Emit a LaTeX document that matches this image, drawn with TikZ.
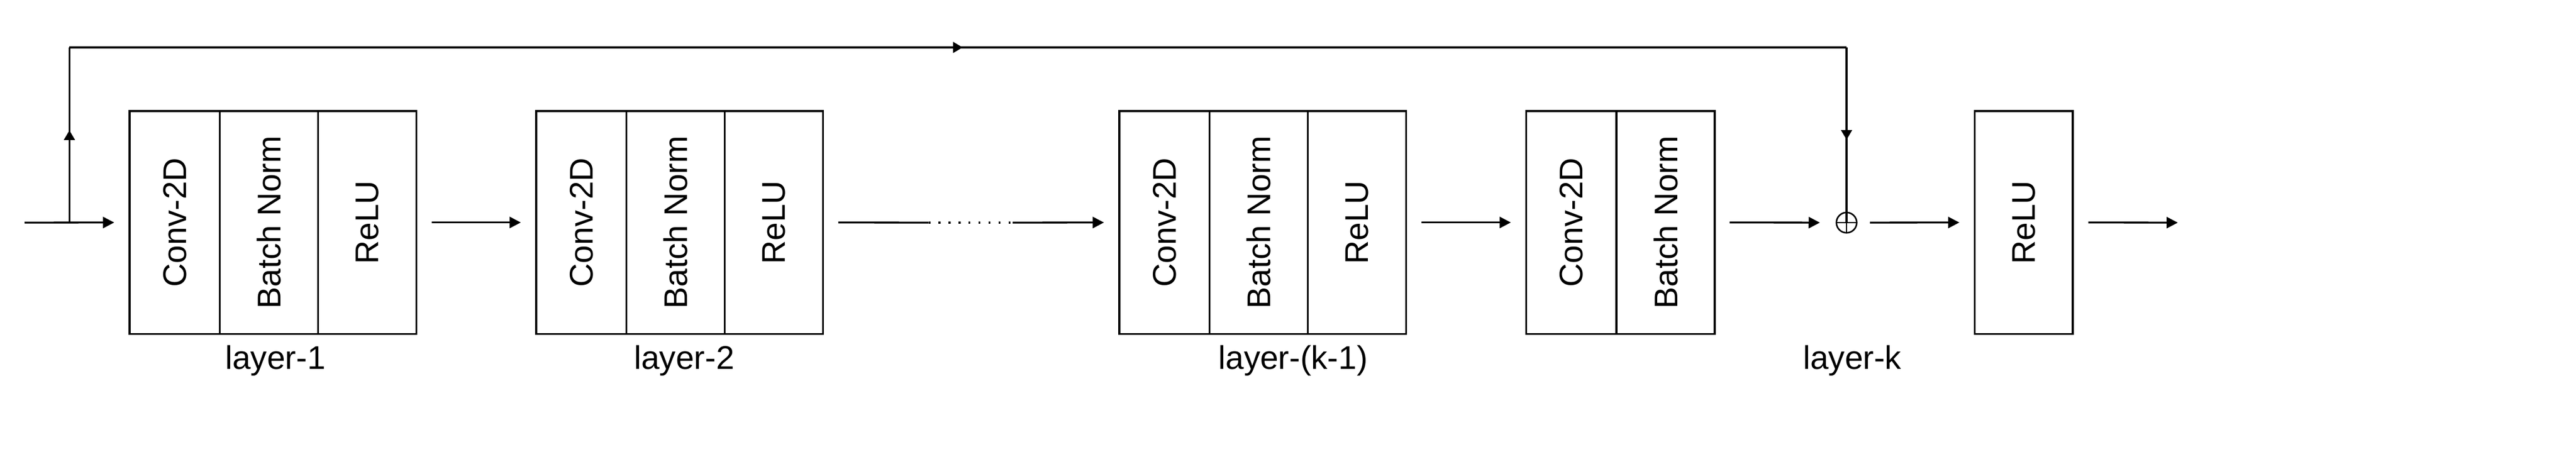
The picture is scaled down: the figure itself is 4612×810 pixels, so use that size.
\documentclass[tikz,border=0pt]{standalone}
\usepackage{fontspec}
\usepackage{graphicx}
\setmainfont{Liberation Sans}
\usetikzlibrary{arrows.meta,decorations.markings}
\begin{document}
\begin{tikzpicture}[x=0.25pt,y=-0.25pt,
  ln/.style={line width=0.83pt},
  col/.style={draw, line width=0.83pt, minimum height=99.85pt, inner sep=0pt, outer sep=0pt, anchor=west,
    font=\fontsize{14.67pt}{17pt}\selectfont},
  convc/.style={col, minimum width=40.4pt},
  bnc/.style={col, minimum width=44pt},
  reluc/.style={col, minimum width=43.9pt},
  lab/.style={anchor=base, inner sep=0pt, font=\fontsize{14.67pt}{17pt}\selectfont},
  arr/.style={ln, -{Triangle[length=5pt,width=5pt]}},
  gapin/.style={shorten <=6.9pt},
  gapout/.style={shorten >=6.9pt},
  midarr/.style={ln, postaction={decorate}, decoration={markings,
    mark=at position 0.5 with {\arrow[xshift=2.1pt]{Triangle[length=4.3pt,width=4.8pt]}}}},
  dotline/.style={line width=0.83pt, dash pattern=on 0.85pt off 3.62pt}
]
\useasboundingbox (0,0) rectangle (4612,810);
\fill[white] (0,0) rectangle (4612,810);

% layer 1
\node[convc] (c1) at (232,398.7) {\rotatebox{90}{Conv-2D}};
\node[bnc] (b1) at (c1.east) {\rotatebox{90}{Batch Norm}};
\node[reluc] (r1) at (b1.east) {\rotatebox{90}{ReLU}};
% layer 2
\node[convc] (c2) at (960,398.7) {\rotatebox{90}{Conv-2D}};
\node[bnc] (b2) at (c2.east) {\rotatebox{90}{Batch Norm}};
\node[reluc] (r2) at (b2.east) {\rotatebox{90}{ReLU}};
% layer k-1
\node[convc] (c3) at (2004,398.7) {\rotatebox{90}{Conv-2D}};
\node[bnc] (b3) at (c3.east) {\rotatebox{90}{Batch Norm}};
\node[reluc] (r3) at (b3.east) {\rotatebox{90}{ReLU}};
% layer k
\node[convc] (c4) at (2732.5,398.7) {\rotatebox{90}{Conv-2D}};
\node[bnc] (b4) at (c4.east) {\rotatebox{90}{Batch Norm}};
\node[circle, draw, line width=0.68pt, minimum size=9.1pt, inner sep=0pt, outer sep=0pt] (plus) at (3306,399) {};
\draw[line width=0.68pt] (plus.north) -- (plus.south) (plus.west) -- (plus.east);
\node[reluc] (r5) at (3535.5,398.7) {\rotatebox{90}{ReLU}};

% labels
\node[lab] (l1) at (493,661.7) {layer-1};
\node[lab] (l2) at (1225,661.7) {layer-2};
\node[lab] (l3) at (2315,661.7) {layer-(k-1)};
\node[lab] (l4) at (3316,661.7) {layer-k};

% coordinates
\coordinate (in) at (44,399);
\coordinate (br) at (124.3,399);
\coordinate (tl) at (124.3,85);
\coordinate (tr) at (3306,85);
\coordinate (d1) at (1662.5,399);
\coordinate (d2) at (1813,399);
\coordinate (out) at (3899,399);

% main flow
\draw[arr, gapout] (in) -- (c1.west);
\draw[arr, gapin, gapout] (r1.east) -- (c2.west);
\draw[ln, gapin] (r2.east) -- (d1);
\draw[dotline] (d1) -- (d2);
\draw[arr, gapout] (d2) -- (c3.west);
\draw[arr, gapin, gapout] (r3.east) -- (c4.west);
\draw[arr, shorten <=6.6pt, shorten >=7.4pt] (b4.east) -- (plus.west);
\draw[arr, shorten <=5.9pt, gapout] (plus.east) -- (r5.west);
\draw[arr, gapin] (r5.east) -- (out);

% skip connection
\draw[midarr] (br) -- (tl);
\draw[midarr] (tl) -- (tr);
\draw[midarr] (tr) -- (plus.center);
\end{tikzpicture}
\end{document}
